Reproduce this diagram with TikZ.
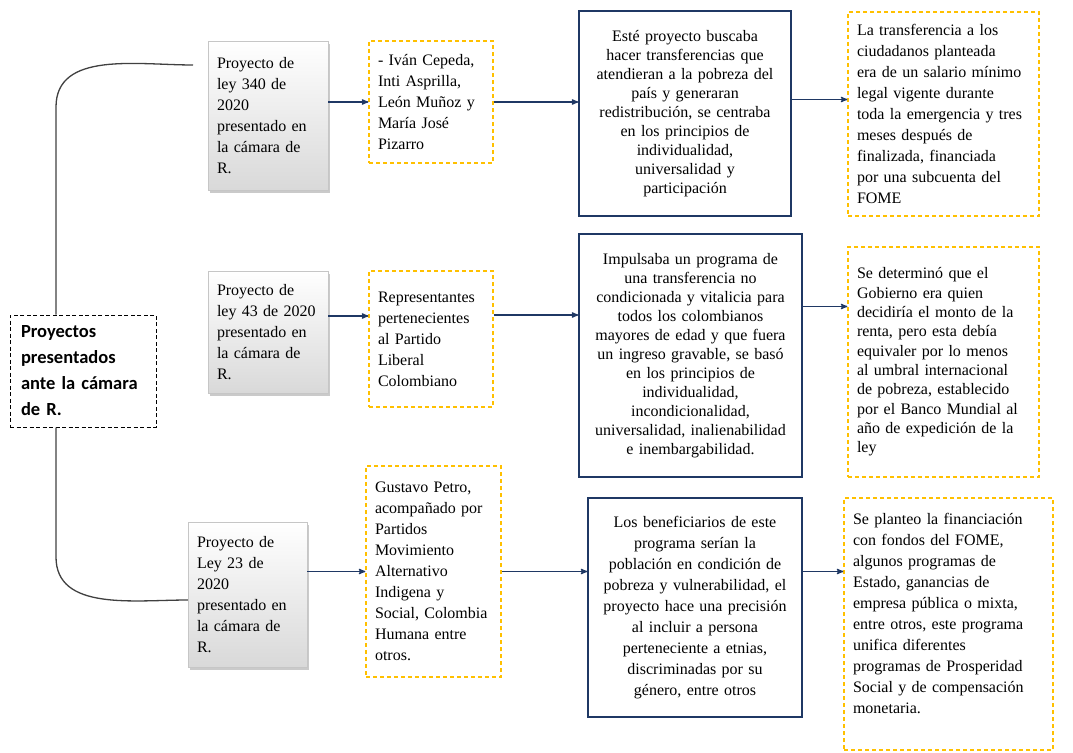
\documentclass[tikz,border=0pt]{standalone}
\usepackage{fontspec}
\setmainfont{Liberation Serif}
\newfontfamily\calibri{Carlito}
\usetikzlibrary{arrows,shadows}
\definecolor{navy}{RGB}{31,56,100}
\definecolor{ambar}{RGB}{255,192,0}

\begin{document}
\begin{tikzpicture}[>=stealth',x=1pt,y=-1pt,font=\fontsize{16}{21}\selectfont]
  \tikzset{every node/.style={inner xsep=9pt,inner ysep=0pt}}
  \tikzset{proyecto/.style={draw=gray!45,top color=white,bottom color=gray!30,align=left,
      drop shadow={shadow xshift=1.5pt,shadow yshift=-3pt,fill=gray!70,opacity=0.6}}}
  \tikzset{autores/.style={draw=ambar,line width=1.2pt,dash pattern=on 4pt off 3pt,align=left}}
  \tikzset{idea/.style={draw=navy,line width=1.4pt,align=center}}
  \tikzset{flecha/.style={->,draw=navy,line width=1.3pt}}
  \tikzset{llave/.style={draw=black!75,line width=1.3pt}}
  \useasboundingbox (0,0) rectangle (1073,752);
  \node[draw,line width=1pt,dash pattern=on 4pt off 2.5pt,align=left,inner xsep=11pt,
    minimum width=146pt,minimum height=112pt,text width=124pt,
    font=\calibri\bfseries\fontsize{18.5}{26}\selectfont] (main) at (83,371)
    {Proyectos\\presentados\\ante la cámara\\de R.};
  % primera fila
  \node[proyecto,minimum width=120pt,minimum height=149pt,text width=102pt] (p1) at (268,115.5)
    {Proyecto de\\ley 340 de\\2020\\presentado en\\la cámara de\\R.};
  \node[autores,minimum width=124pt,minimum height=122pt,text width=106pt] (a1) at (431,102)
    {- Iván Cepeda,\\Inti Asprilla,\\León Muñoz y\\María José\\Pizarro};
  \node[idea,minimum width=212pt,minimum height=205pt,text width=194pt,
    font=\fontsize{16}{19}\selectfont] (b1) at (685,113.5)
    {Esté proyecto buscaba\\hacer transferencias  que\\atendieran a la pobreza del\\país y generaran\\redistribución,  se centraba\\en los principios de\\individualidad,\\universalidad y\\participación};
  \node[autores,minimum width=191pt,minimum height=204pt,text width=173pt] (c1) at (943.5,114)
    {La transferencia  a los\\ciudadanos planteada\\era de un salario mínimo\\legal vigente durante\\toda la emergencia  y tres\\meses después de\\finalizada, financiada\\por una subcuenta del\\FOME};
  % segunda fila
  \node[proyecto,minimum width=120pt,minimum height=122pt,text width=102pt] (p2) at (268,332)
    {Proyecto de\\ley 43 de 2020\\presentado en\\la cámara de\\R.};
  \node[autores,minimum width=124pt,minimum height=136pt,text width=106pt] (a2) at (431,339)
    {Representantes\\pertenecientes\\al Partido\\Liberal\\Colombiano};
  \node[idea,minimum width=223pt,minimum height=243pt,text width=205pt,
    font=\fontsize{16}{19}\selectfont] (b2) at (690.5,355.5)
    {Impulsaba un programa de\\una transferencia no\\condicionada y vitalicia  para\\todos los colombianos\\mayores de edad y que fuera\\un ingreso gravable,  se basó\\en los principios de\\individualidad,\\incondicionalidad,\\universalidad, inalienabilidad\\e inembargabilidad.};
  \node[autores,minimum width=191pt,minimum height=230pt,text width=173pt,
    font=\fontsize{16}{19.3}\selectfont] (c2) at (943.5,362)
    {Se determinó  que el\\Gobierno era quien\\decidiría el monto de la\\renta, pero esta debía\\equivaler por lo menos\\al umbral internacional\\de pobreza, establecido\\por el Banco Mundial al\\año de expedición de la\\ley};
  % tercera fila
  \node[proyecto,minimum width=119pt,minimum height=145pt,text width=101pt] (p3) at (247.5,594.5)
    {Proyecto de\\Ley 23  de\\2020\\presentado en\\la cámara de\\R.};
  \node[autores,minimum width=135pt,minimum height=211pt,text width=117pt] (a3) at (433.5,571.5)
    {Gustavo Petro,\\acompañado por\\Partidos\\Movimiento\\Alternativo\\Indigena y\\Social, Colombia\\Humana entre\\otros.};
  \node[idea,minimum width=214pt,minimum height=219pt,text width=196pt] (b3) at (695,607.5)
    {Los beneficiarios  de este\\programa  serían  la\\población en  condición  de\\pobreza y vulnerabilidad,  el\\proyecto hace una precisión\\al  incluir a persona\\perteneciente  a etnias,\\discriminadas  por su\\género, entre otros};
  \node[autores,minimum width=209pt,minimum height=252pt,text width=191pt] (c3) at (948.5,624)
    {Se planteo  la financiación\\con fondos del FOME,\\algunos programas  de\\Estado, ganancias  de\\empresa pública o mixta,\\entre otros, este programa\\unifica diferentes\\programas de Prosperidad\\Social y de compensación\\monetaria.\\ \mbox{}};
  % llave
  \coordinate (k1) at (56,107);
  \coordinate (k2) at (193,65);
  \coordinate (k3) at (56,557);
  \draw[llave] (k1 |- main.north) -- (k1) to[out=90,in=180] (k2);
  \draw[llave] (k3 |- main.south) -- (k3) to[out=-90,in=180] ([yshift=-5.5pt]p3.west);
  % flechas
  \draw[flecha] (p1.east |- a1.west) -- (a1.west);
  \draw[flecha] (a1.east) -- (a1.east -| b1.west);
  \draw[flecha] ([yshift=14pt]b1.east) -- ([yshift=14pt]b1.east -| c1.west);
  \draw[flecha] ([yshift=16pt]p2.east) -- ([yshift=16pt]p2.east -| a2.west);
  \draw[flecha] ([yshift=24pt]a2.east) -- ([yshift=24pt]a2.east -| b2.west);
  \draw[flecha] ([yshift=49pt]b2.east) -- ([yshift=49pt]b2.east -| c2.west);
  \draw[flecha] (p3.east |- a3.west) -- (a3.west);
  \draw[flecha] (a3.east) -- (a3.east -| b3.west);
  \draw[flecha] (b3.east |- a3.east) -- (c3.west |- a3.east);
\end{tikzpicture}
\end{document}
